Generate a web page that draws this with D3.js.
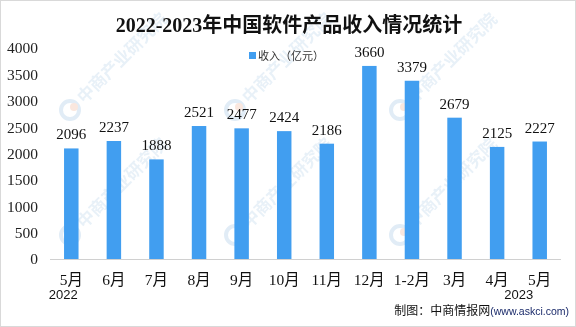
<!DOCTYPE html>
<html><head><meta charset="utf-8">
<script src="https://cdn.jsdelivr.net/npm/d3@7"></script>
<style>body{margin:0;background:#fff}svg{display:block}</style>
</head><body>
<svg id="c" width="576" height="327"></svg>
<script>
const categories = ["5月","6月","7月","8月","9月","10月","11月","12月","1-2月","3月","4月","5月"];
const values = [2096,2237,1888,2521,2477,2424,2186,3660,3379,2679,2125,2227];
const yTicks = [0,500,1000,1500,2000,2500,3000,3500,4000];
const yearLabels = [{i:0,t:"2022"},{i:11,t:"2023"}];
const title = "2022-2023年中国软件产品收入情况统计";
const seriesName = "收入（亿元）";
const footer = "制图：中商情报网";
const footer2 = "(www.askci.com)";

const svg = d3.select("#c");
const W=576,H=327;
svg.append("rect").attr("x",0.5).attr("y",0.5).attr("width",W-1).attr("height",H-1).attr("fill","#fff").attr("stroke","#d9d9d9");

// watermarks
const wm = svg.append("g").attr("opacity",0.55);
const wx=[70,235,400], wy=[110,235];
wx.forEach(x=>wy.forEach(y=>{
  const g=wm.append("g").attr("transform",`translate(${x},${y})`);
  g.append("circle").attr("r",9).attr("fill","none").attr("stroke","#c9ddef").attr("stroke-width",4);
  g.append("circle").attr("cx",4).attr("cy",-3).attr("r",4).attr("fill","#f6d3c4");
  g.append("text").attr("transform","rotate(-45)").attr("x",14).attr("y",6)
    .attr("font-family","Noto Sans CJK SC").attr("font-size",17).attr("font-weight","bold")
    .attr("fill","#d6e5f2").text("中商产业研究院");
}));

const x = d3.scaleBand().domain(d3.range(categories.length)).range([50,561]).paddingInner(0.66).paddingOuter(0.33);
const y = d3.scaleLinear().domain([0,4000]).range([259,48]);

svg.append("text").attr("x",289).attr("y",32).attr("text-anchor","middle")
  .attr("font-family","Liberation Serif, Noto Sans CJK SC").attr("font-weight","bold").attr("font-size",20)
  .attr("fill","#111").text(title);

// y axis labels
svg.append("g").selectAll("text").data(yTicks).join("text")
  .attr("x",38).attr("y",d=>y(d)).attr("dy","0.35em").attr("text-anchor","end")
  .attr("font-family","Liberation Serif").attr("font-size",15.5).attr("fill","#222").text(d=>d);

// axis line
svg.append("line").attr("x1",50).attr("x2",561).attr("y1",y(0)+0.5).attr("y2",y(0)+0.5).attr("stroke","#d0d0d0");

svg.append("g").selectAll("rect").data(values).join("rect")
  .attr("x",(d,i)=>x(i)).attr("width",x.bandwidth()).attr("y",d=>y(d)).attr("height",d=>y(0)-y(d))
  .attr("fill","#419ef0");

svg.append("g").selectAll("text").data(values).join("text")
  .attr("x",(d,i)=>x(i)+x.bandwidth()/2).attr("y",d=>y(d)-9).attr("text-anchor","middle")
  .attr("font-family","Liberation Serif").attr("font-size",15).attr("fill","#111").text(d=>d);

svg.append("g").selectAll("text").data(categories).join("text")
  .attr("x",(d,i)=>x(i)+x.bandwidth()/2).attr("y",285).attr("text-anchor","middle")
  .attr("font-family","Liberation Serif, Noto Sans CJK SC").attr("font-size",15.5).attr("fill","#111").text(d=>d);

svg.append("g").selectAll("text").data(yearLabels).join("text")
  .attr("x",d=>x(d.i)+x.bandwidth()/2+(d.i===0?-8:-21)).attr("y",299).attr("text-anchor","middle")
  .attr("font-family","Liberation Sans").attr("font-size",13).attr("fill","#111").text(d=>d.t);

// legend
svg.append("rect").attr("x",249).attr("y",52).attr("width",7).attr("height",7).attr("fill","#419ef0");
svg.append("text").attr("x",258).attr("y",59.5).attr("font-family","Noto Sans CJK SC").attr("font-size",11)
  .attr("fill","#333").text(seriesName);

// footer
const ft = svg.append("text").attr("x",569).attr("y",315).attr("text-anchor","end").attr("fill","#111");
ft.append("tspan").attr("font-family","Noto Sans CJK SC").attr("font-size",12).text(footer);
ft.append("tspan").attr("font-family","Liberation Sans").attr("font-size",10.5).attr("fill","#1a2a6a").text(footer2);
</script>
</body></html>
